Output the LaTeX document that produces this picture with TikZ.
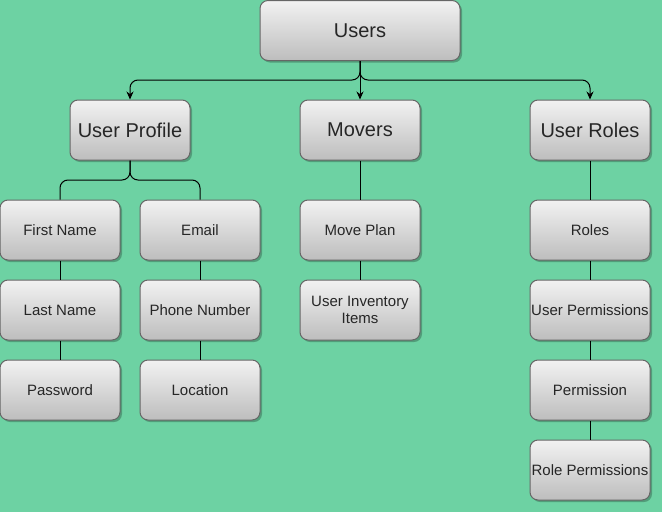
\documentclass[tikz,border=0pt]{standalone}
\usepackage{fontspec}
\setmainfont{Liberation Sans}
\usetikzlibrary{arrows.meta,shadows}
\definecolor{bg}{HTML}{6DD2A3}
\definecolor{boxtop}{HTML}{F2F2F2}
\definecolor{boxbot}{HTML}{BDBDBD}
\definecolor{boxline}{HTML}{666666}
\tikzset{
  box/.style={draw=boxline, line width=1pt, rounded corners=8pt,
    top color=boxtop, bottom color=boxbot, minimum width=120pt, minimum height=60pt,
    inner sep=0pt, align=center, font=\fontsize{15}{17.5}\selectfont, text=black!85,
    drop shadow={shadow xshift=2pt, shadow yshift=-2pt, opacity=0.25, fill=black}},
  bigbox/.style={box, font=\fontsize{20}{23}\selectfont},
  link/.style={draw=black, line width=1pt, rounded corners=8pt},
  arr/.style={link, -{Stealth[length=8pt,width=7pt]}}
}
\begin{document}
\begin{tikzpicture}[x=1pt,y=-1pt]
\fill[bg] (0,0) rectangle (662,512);
\useasboundingbox (0,0) rectangle (662,512);
\node[bigbox, minimum width=200pt] (users) at (360,30.5) {Users};
\node[bigbox] (profile) at (130,130) {User Profile};
\node[bigbox] (movers) at (360,130) {Movers};
\node[bigbox] (roles) at (590,130) {User Roles};
\node[box] (first) at (60,230) {First Name};
\node[box] (last) at (60,310) {Last Name};
\node[box] (pass) at (60,390) {Password};
\node[box] (email) at (200,230) {Email};
\node[box] (phone) at (200,310) {Phone Number};
\node[box] (loc) at (200,390) {Location};
\node[box] (plan) at (360,230) {Move Plan};
\node[box] (inv) at (360,310) {User Inventory\\Items};
\node[box] (roles2) at (590,230) {Roles};
\node[box] (uperm) at (590,310) {User Permissions};
\node[box] (perm) at (590,390) {Permission};
\node[box] (rperm) at (590,470) {Role Permissions};
% edges from Users
\draw[arr] (users.south) -- (360,80) -- (130,80) -- (profile.north);
\draw[arr] (users.south) -- (movers.north);
\draw[arr] (users.south) -- (360,80) -- (590,80) -- (roles.north);
% User Profile
\draw[link] (profile.south) -- (130,180) -- (60,180) -- (first.north);
\draw[link] (profile.south) -- (130,180) -- (200,180) -- (email.north);
\draw[link] (first) -- (last);
\draw[link] (last) -- (pass);
\draw[link] (email) -- (phone);
\draw[link] (phone) -- (loc);
% Movers
\draw[link] (movers) -- (plan);
\draw[link] (plan) -- (inv);
% Roles
\draw[link] (roles) -- (roles2);
\draw[link] (roles2) -- (uperm);
\draw[link] (uperm) -- (perm);
\draw[link] (perm) -- (rperm);
\end{tikzpicture}
\end{document}
